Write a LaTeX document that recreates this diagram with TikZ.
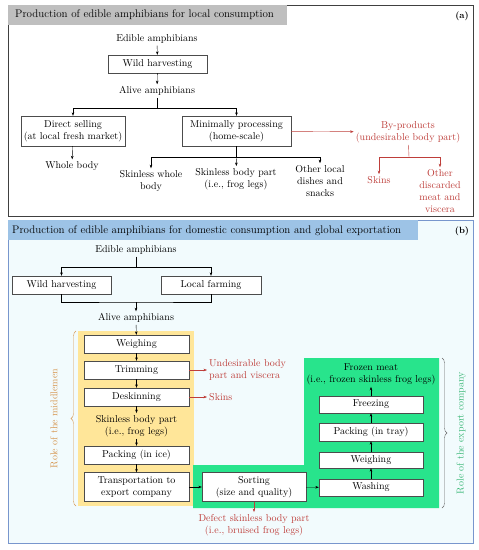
\documentclass[tikz,border=0pt]{standalone}
\usepackage{tikz}
\usetikzlibrary{positioning, arrows.meta, decorations.pathreplacing}
\definecolor{byred}{RGB}{190,62,58}
\definecolor{titlegray}{RGB}{191,191,191}
\definecolor{titleblue}{RGB}{157,195,230}
\definecolor{frameblue}{RGB}{120,150,205}
\definecolor{paleblue}{RGB}{242,251,253}
\definecolor{midyellow}{RGB}{255,230,153}
\definecolor{expgreen}{RGB}{40,228,140}
\definecolor{rolegreen}{RGB}{60,184,120}
\definecolor{roleorange}{RGB}{214,150,80}

\begin{document}
\begin{tikzpicture}[x=1pt, y=-1pt, node distance=27pt, on grid, >={Stealth[length=3.5pt, width=2.6pt]},
	font=\fontsize{10}{12}\selectfont,
	proc/.style={draw=black!70, fill=white, align=center, minimum height=18pt, inner sep=1pt},
	lbl/.style={align=center, inner sep=2pt},
	waste/.style={lbl, text=byred},
	heading/.style={anchor=west, inner sep=0pt, font=\fontsize{11}{13}\selectfont}]
	\fill[white] (0,0) rectangle (479,550);
	\useasboundingbox (0,0) rectangle (479,550);

	% (a) local consumption
	\draw[draw=black!75, line width=0.8pt, fill=white] (8,5) rectangle (473,216);
	\fill[titlegray] (8.4,5.4) rectangle (287,25);
	\node[heading] (titleA) at (15,15) {Production of edible amphibians for local consumption};
	\node[font=\fontsize{9}{11}\selectfont\bfseries] (tagA) at (462,16) {(a)};

	\node[lbl] (edibleA) at (157,39) {Edible amphibians};
	\node[proc, minimum width=99pt] (wildA) at (157.5,64) {Wild harvesting};
	\node[lbl] (aliveA) at (157,91) {Alive amphibians};
	\node[proc, minimum width=104pt, minimum height=30pt] (direct) at (73,131) {Direct selling\\(at local fresh market)};
	\node[proc, minimum width=109pt, minimum height=30pt] (minimal) at (236.5,131) {Minimally processing\\(home-scale)};
	\node[waste] (byprod) at (408,132) {By-products\\(undesirable body part)};
	\node[lbl] (whole) at (72,166) {Whole body};
	\node[lbl] (skinwhole) at (151,181) {Skinless whole\\body};
	\node[lbl] (skinpartA) at (236,179) {Skinless body part\\(i.e., frog legs)};
	\node[lbl] (otherdish) at (320,181) {Other local\\dishes and\\snacks};
	\node[waste] (skinsA) at (379,180) {Skins};
	\node[waste] (otherdisc) at (440,191) {Other\\discarded\\meat and\\viscera};

	\coordinate (forkA) at (157,108);
	\coordinate (forkM) at (236.5,157);
	\coordinate (forkP) at (409,157);

	\draw[->] (edibleA) -- (wildA);
	\draw[->] (wildA) -- (aliveA);
	\draw (aliveA) -- (forkA);
	\draw[->] (forkA) -| (direct);
	\draw[->] (forkA) -| (minimal);
	\draw[->] (direct) -- (whole);
	\draw (minimal) -- (forkM);
	\draw[->] (forkM) -| (skinwhole);
	\draw[->] (forkM) -- (skinpartA);
	\draw[->] (forkM) -| (otherdish);
	\draw[->, byred] (minimal) -- (byprod);
	\draw[byred] (byprod) -- (forkP);
	\draw[->, byred] (forkP) -| (skinsA);
	\draw[->, byred] (forkP) -| (otherdisc);

	% (b) domestic consumption and export
	\draw[draw=frameblue, line width=0.8pt, fill=paleblue] (8,220) rectangle (473,543);
	\fill[titleblue] (8.4,220.4) rectangle (418,240);
	\node[heading] (titleB) at (12,231) {Production of edible amphibians for domestic consumption and global exportation};
	\node[font=\fontsize{9}{11}\selectfont\bfseries] (tagB) at (462,231) {(b)};

	\fill[midyellow] (78,331) rectangle (194,506);
	\fill[expgreen] (193,465) -- (304,465) -- (304,358) -- (439,358) -- (439,508) -- (193,508) -- cycle;

	\node[lbl] (edibleB) at (136,250) {Edible amphibians};
	\node[proc, minimum width=99pt] (wildB) at (61.5,285) {Wild harvesting};
	\node[proc, minimum width=100pt] (farmB) at (211,285) {Local farming};
	\node[lbl] (aliveB) at (136,318) {Alive amphibians};

	\node[proc, minimum width=105pt] (weighM) at (136.5,344) {Weighing};
	\node[proc, minimum width=105pt, below=26pt of weighM] (trimM) {Trimming};
	\node[proc, minimum width=105pt, below=27pt of trimM] (deskinM) {Deskinning};
	\node[lbl, below=29pt of deskinM] (skinpartB) {Skinless body part\\(i.e., frog legs)};
	\node[proc, minimum width=105pt, below=29pt of skinpartB] (packM) {Packing (in ice)};
	\node[proc, minimum width=105pt, minimum height=29pt, below=32pt of packM] (transM) {Transportation to\\export company};
	\node[waste, align=left, anchor=west] (undes) at (207,370) {Undesirable body\\part and viscera};
	\node[waste, anchor=west] (skinsB) at (207,397) {Skins};

	\node[proc, minimum width=104pt, minimum height=29pt] (sortE) at (254,487) {Sorting\\(size and quality)};
	\node[proc, minimum width=104pt, minimum height=17pt] (washE) at (371,487.5) {Washing};
	\node[proc, minimum width=104pt, minimum height=16pt, above=27.5pt of washE] (weighE) {Weighing};
	\node[proc, minimum width=104pt, above=28pt of weighE] (packE) {Packing (in tray)};
	\node[proc, minimum width=104pt, minimum height=17pt, above=27.5pt of packE] (freezeE) {Freezing};
	\node[lbl, above=30.5pt of freezeE] (frozen) {Frozen meat\\(i.e., frozen skinless frog legs)};
	\node[waste] (defect) at (254,525) {Defect skinless body part\\(i.e., bruised frog legs)};

	\coordinate (forkE) at (136,267);
	\coordinate (joinB) at (136,302);

	\draw (edibleB) -- (forkE);
	\draw[->] (forkE) -| (wildB);
	\draw[->] (forkE) -| (farmB);
	\draw (wildB) |- (joinB) -| (farmB);
	\draw[->] (joinB) -- (aliveB);
	\draw[->] (aliveB) -- (weighM);
	\draw[->] (weighM) -- (trimM);
	\draw[->] (trimM) -- (deskinM);
	\draw[->] (deskinM) -- (skinpartB);
	\draw[->] (skinpartB) -- (packM);
	\draw[->] (packM) -- (transM);
	\draw[->, byred] (trimM) -- (undes);
	\draw[->, byred] (deskinM) -- (skinsB);
	\draw[->] (transM) -- (sortE);
	\draw[->] (sortE) -- (washE);
	\draw[->] (washE) -- (weighE);
	\draw[->] (weighE) -- (packE);
	\draw[->] (packE) -- (freezeE);
	\draw[->] (freezeE) -- (frozen);
	\draw[->, byred] (sortE) -- (defect);

	% roles
	\draw[roleorange, decorate, decoration={brace, amplitude=5pt}] (76,506) -- (76,331);
	\draw[black!60, decorate, decoration={brace, amplitude=5pt}] (442,358) -- (442,508);
	\node[rotate=90, text=roleorange] (roleM) at (54,418.5) {Role of the middlemen};
	\node[rotate=90, text=rolegreen] (roleE) at (461,433) {Role of the export company};
\end{tikzpicture}
\end{document}
